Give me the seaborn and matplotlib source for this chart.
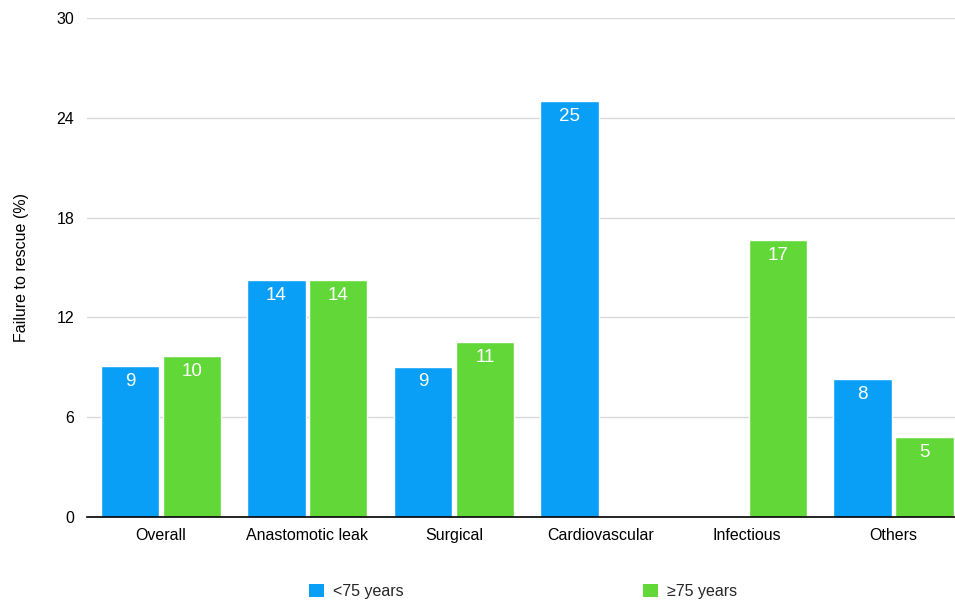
import matplotlib
matplotlib.use("Agg")
import matplotlib.pyplot as plt
import seaborn as sns
import pandas as pd
from matplotlib.patches import Patch

categories = ["Overall", "Anastomotic leak", "Surgical", "Cardiovascular", "Infectious", "Others"]
under75 = [9.08, 14.25, 9.05, 25.0, 0.0, 8.3]
over75 = [9.68, 14.25, 10.52, 0.0, 16.66, 4.81]
under75_labels = ["9", "14", "9", "25", "", "8"]
over75_labels = ["10", "14", "11", "", "17", "5"]
series = ["<75 years", "\u226575 years"]
yticks = [0, 6, 12, 18, 24, 30]

colors = ["#0a9ff7", "#62d838"]

df = pd.DataFrame({
    "category": categories * 2,
    "value": under75 + over75,
    "group": [series[0]] * len(categories) + [series[1]] * len(categories),
})

sns.set_style("white")
plt.rcParams["font.family"] = ["Liberation Sans", "DejaVu Sans"]

fig = plt.figure(figsize=(9.55, 6.02), dpi=100)
ax = fig.add_axes([0.091, 0.141, 0.909, 0.829])

sns.barplot(data=df, x="category", y="value", hue="group", palette=colors,
            width=0.845, gap=0.06, ax=ax, legend=False, saturation=1)

for cont, labs in zip(ax.containers, [under75_labels, over75_labels]):
    ax.bar_label(cont, labels=labs, padding=-17, color="white", fontsize=13.5)

ax.set_ylim(0, 30)
ax.set_xlim(-0.505, len(categories) - 1 + 0.42)
ax.set_yticks(yticks)
ax.set_yticklabels([str(t) for t in yticks], fontsize=11.5)
ax.tick_params(axis="both", length=0, labelsize=11.5, labelcolor="black")
ax.tick_params(axis="y", pad=9)
ax.tick_params(axis="x", pad=8)
ax.yaxis.grid(True, color="#d9d9d9", linewidth=1)
ax.set_axisbelow(True)
for s in ["top", "right", "left"]:
    ax.spines[s].set_visible(False)
ax.spines["bottom"].set_color("black")
ax.spines["bottom"].set_linewidth(1.2)
ax.set_xlabel("")
ax.set_ylabel("Failure to rescue (%)", fontsize=11.5, labelpad=20, color="black")

handles = [Patch(facecolor=c, edgecolor="none") for c in colors]
fig.legend(handles, series, loc="center", bbox_to_anchor=(0.548, 0.017), ncol=2,
           frameon=False, fontsize=11.5, handlelength=0.9, handleheight=0.9,
           columnspacing=15, handletextpad=0.6)

fig.savefig("out.png", dpi=100)
